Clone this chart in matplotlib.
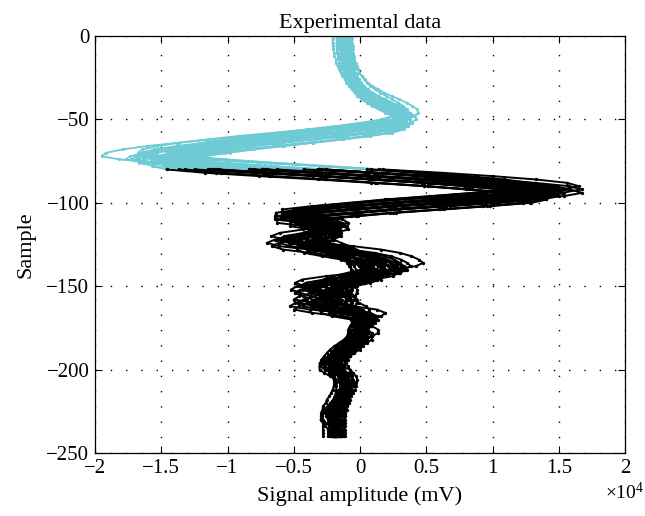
import numpy as np
import matplotlib
matplotlib.use("Agg")
import matplotlib.pyplot as plt
from matplotlib.ticker import ScalarFormatter

plt.rcParams["font.family"] = ["Liberation Serif", "DejaVu Serif"]
plt.rcParams["mathtext.fontset"] = "custom"
plt.rcParams["mathtext.rm"] = "Liberation Serif"

# Sample index (every second sample)
samples = np.arange(8, -249, -2)

# Main pulse of the recorded signal (units of 1e4 mV)
pulse = [
    -0.12, -0.12, -0.12, -0.12, -0.12,
    -0.12, -0.12, -0.12, -0.12, -0.115, -0.11, -0.11, -0.10,
    -0.10, -0.09, -0.08, -0.07, -0.06, -0.04, -0.02, 0.00,
    0.03, 0.07, 0.11, 0.16, 0.21, 0.26, 0.30, 0.33,
    0.34, 0.31, 0.22, 0.05, -0.16, -0.40, -0.64, -0.88,
    -1.08, -1.27, -1.42, -1.52, -1.55, -1.44, -1.15, -0.74,
    -0.30, 0.10, 0.50, 0.84, 1.13, 1.34, 1.42, 1.30,
    0.98, 0.62, 0.25, -0.05, -0.30, -0.42, -0.42, -0.34,
    -0.27, -0.23, -0.22, -0.22, -0.22, -0.21, -0.19, -0.17,
    -0.15, -0.13, -0.11, -0.10, -0.09, -0.08, -0.07, -0.06,
    -0.05, -0.04, -0.03, -0.02, -0.01, 0.00, 0.00, 0.01,
    0.01, 0.02, 0.02, 0.01, 0.00, -0.01, -0.02, -0.03,
    -0.05, -0.06, -0.08, -0.09, -0.10, -0.11, -0.12, -0.13,
    -0.14, -0.15, -0.15, -0.15, -0.15, -0.14, -0.14, -0.13,
    -0.13, -0.13, -0.13, -0.13, -0.13, -0.14, -0.14, -0.15,
    -0.15, -0.16, -0.16, -0.17, -0.17, -0.18, -0.18, -0.18,
    -0.18, -0.18, -0.18, -0.18,
]

# Trailing ringing after the main pulse (units of 1e4 mV)
ringing = [
    0.0, 0.0, 0.0, 0.0, 0.0,
    0.0, 0.0, 0.0, 0.0, 0.0, 0.0, 0.0, 0.0,
    0.0, 0.0, 0.0, 0.0, 0.0, 0.0, 0.0, 0.0,
    0.0, 0.0, 0.0, 0.0, 0.0, 0.0, 0.0, 0.0,
    0.0, 0.0, 0.0, 0.0, 0.0, 0.0, 0.0, 0.0,
    0.0, 0.0, 0.0, 0.0, 0.0, 0.0, 0.0, 0.0,
    0.0, 0.0, 0.0, 0.0, 0.0, 0.0, 0.0, 0.0,
    0.0, 0.0, 0.0, 0.0, -0.08, -0.16, -0.16, -0.02,
    0.10, 0.10, -0.04, -0.22, -0.38, -0.45, -0.38, -0.18,
    0.05, 0.22, 0.33, 0.40, 0.44, 0.46, 0.40, 0.22,
    -0.02, -0.25, -0.42, -0.48, -0.42, -0.35, -0.38, -0.48,
    -0.52, -0.38, -0.12, 0.05, 0.12, 0.10, 0.06, 0.05,
    0.08, 0.13, 0.15, 0.12, 0.06, 0.00, -0.05, -0.08,
    -0.10, -0.12, -0.12, -0.08, -0.03, 0.02, 0.04, 0.05,
    0.06, 0.05, 0.03, 0.00, -0.03, -0.05, -0.07, -0.09,
    -0.10, -0.10, -0.08, -0.05, -0.02, 0.00, 0.00, 0.00,
    0.0, 0.0, 0.0, 0.0,
]

# Per-recording delay (samples), pulse gain, ringing strength and baseline offset
trace_delay = [0, 2, -2, 4, 0, -4, 2, 0, -2, 2, 0, 4, -2, 0, 2, -4,
               0, 2, -2, 0, 4, -2, 0, 2, -2, 0, 2, -4, 4, 0, -2, 2]
trace_gain = [1.00, 0.95, 1.05, 0.92, 1.10, 0.93, 1.22, 0.90, 0.98, 1.02, 0.91, 1.12,
              0.94, 1.06, 0.92, 1.00, 1.16, 0.93, 0.97, 1.08, 0.90, 1.03, 0.96, 1.10,
              0.99, 0.94, 1.04, 0.97, 0.91, 1.01, 0.95, 1.07]
trace_ring = [0.6, 0.3, 0.9, 0.2, 1.0, 0.5, 0.4, 0.8, 0.25, 0.7, 0.35, 1.1,
              0.45, 0.15, 0.95, 0.55, 0.3, 0.65, 0.2, 0.85, 0.4, 0.5, 0.1, 0.75,
              0.6, 0.35, 0.9, 0.25, 0.5, 0.7, 0.15, 0.45]
trace_offset = [0.0, 0.03, -0.04, 0.05, -0.02, 0.02, -0.06, 0.04, -0.01, 0.01, -0.03, 0.06,
                0.0, -0.05, 0.02, -0.02, 0.03, -0.04, 0.05, 0.0, -0.01, 0.04, -0.03, 0.01,
                0.02, -0.02, 0.0, 0.03, -0.04, 0.01, -0.01, 0.02]

split_sample = -80
last_sample = -240
cyan = "#6ECBD6"


class PlainScalarFormatter(ScalarFormatter):
    """Scientific offset (x10^n) with tick labels written as short as possible."""
    def _set_format(self):
        self.format = "%g"


fig = plt.figure(figsize=(6.45, 5.16), dpi=100)
ax = fig.add_axes([0.1473, 0.1221, 0.8217, 0.8081])

pulse_arr = np.array(pulse)
ring_arr = np.array(ringing)
traces = []
for d, g, r, o in zip(trace_delay, trace_gain, trace_ring, trace_offset):
    y = samples + d
    x = (g * pulse_arr + r * ring_arr + o) * 1e4
    keep = y >= last_sample
    traces.append((x[keep], y[keep]))

for x, y in traces:
    m = y >= split_sample
    ax.plot(x[m], y[m], "-", color=cyan, lw=1.3, marker=".", ms=2.5, zorder=2)
for x, y in traces:
    m = y <= split_sample
    ax.plot(x[m], y[m], "-", color="black", lw=1.4, marker=".", ms=2.8, zorder=3)

ax.set_xlim(-2e4, 2e4)
ax.set_ylim(-250, 0)
ax.set_xticks(np.arange(-2e4, 2.01e4, 0.5e4))
ax.set_yticks(np.arange(-250, 1, 50))
fmt = PlainScalarFormatter(useMathText=True)
fmt.set_powerlimits((0, 0))
ax.xaxis.set_major_formatter(fmt)
offset_text = ax.xaxis.get_offset_text()
offset_text.set_fontsize(14)
offset_text.set_horizontalalignment("center")

ax.grid(True, color="black", linestyle=(0, (1, 10)), linewidth=1.0)
ax.tick_params(direction="in", top=True, right=True, length=5, width=0.8,
               labelsize=15, pad=4)
for sp in ax.spines.values():
    sp.set_linewidth(0.9)

ax.set_title("Experimental data", fontsize=16, pad=6)
ax.set_xlabel("Signal amplitude (mV)", fontsize=16, labelpad=6)
ax.set_ylabel("Sample", fontsize=16, labelpad=8)

fig.savefig("out.png", dpi=100)
